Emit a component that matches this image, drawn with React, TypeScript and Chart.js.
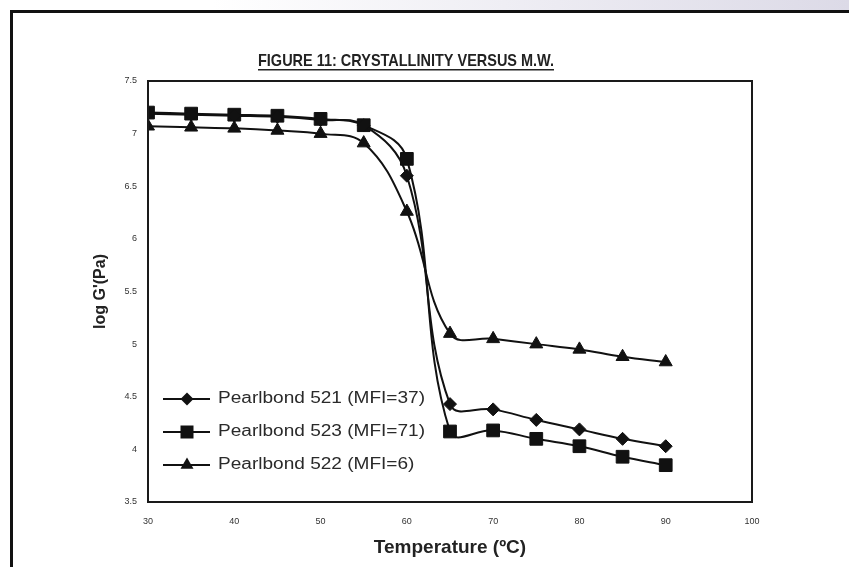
import React, { useEffect, useRef } from "react";
import { Chart, registerables } from "chart.js";

Chart.register(...registerables);

// ---- data ----
const temperatures = [30, 35, 40, 45, 50, 55, 60, 65, 70, 75, 80, 85, 90];
const pearlbond521 = [7.19, 7.18, 7.17, 7.16, 7.13, 7.08, 6.6, 4.43, 4.38, 4.28, 4.19, 4.1, 4.03];
const pearlbond523 = [7.2, 7.19, 7.18, 7.17, 7.14, 7.08, 6.76, 4.17, 4.18, 4.1, 4.03, 3.93, 3.85];
const pearlbond522 = [7.07, 7.06, 7.05, 7.03, 7.0, 6.91, 6.26, 5.1, 5.05, 5.0, 4.95, 4.88, 4.83];
const seriesLabels = [
  "Pearlbond 521 (MFI=37)",
  "Pearlbond 523 (MFI=71)",
  "Pearlbond 522 (MFI=6)",
];
const seriesMarkers = ["rectRot", "rect", "triangle"];
const xTickValues = [30, 40, 50, 60, 70, 80, 90, 100];
const yTickValues = [3.5, 4, 4.5, 5, 5.5, 6, 6.5, 7, 7.5];
const chartTitle = "FIGURE 11: CRYSTALLINITY VERSUS M.W.";
const xAxisTitle = "Temperature (ºC)";
const yAxisTitle = "log G'(Pa)";

const FONT = "'Liberation Sans', Arial, sans-serif";
const INK = "#111";

function drawMarker(ctx: CanvasRenderingContext2D, style: string, x: number, y: number) {
  ctx.beginPath();
  if (style === "rectRot") {
    const r = 6.5;
    ctx.moveTo(x, y - r);
    ctx.lineTo(x + r, y);
    ctx.lineTo(x, y + r);
    ctx.lineTo(x - r, y);
  } else if (style === "rect") {
    const s = 6.5;
    ctx.rect(x - s, y - s, 2 * s, 2 * s);
  } else {
    const r = 7.5;
    ctx.moveTo(x, y - r);
    ctx.lineTo(x + r * 0.866, y + r * 0.5);
    ctx.lineTo(x - r * 0.866, y + r * 0.5);
  }
  ctx.closePath();
  ctx.fill();
}

const decorPlugin = {
  id: "decor",
  afterDraw(chart: any) {
    const ctx: CanvasRenderingContext2D = chart.ctx;
    const { left, right, top, bottom } = chart.chartArea;
    ctx.save();
    // plot frame
    ctx.strokeStyle = "#1a1a1a";
    ctx.lineWidth = 2;
    ctx.strokeRect(left, top, right - left, bottom - top);

    // title with underline
    ctx.fillStyle = "#222";
    ctx.font = `bold 17px ${FONT}`;
    ctx.textBaseline = "alphabetic";
    ctx.textAlign = "left";
    const targetW = 296;
    const w = ctx.measureText(chartTitle).width;
    const sx = targetW / w;
    const tx = 258;
    const ty = 66;
    ctx.save();
    ctx.translate(tx, ty);
    ctx.scale(sx, 1);
    ctx.fillText(chartTitle, 0, 0);
    ctx.restore();
    ctx.fillRect(tx, ty + 3, targetW, 1.5);

    // legend
    ctx.font = `16px ${FONT}`;
    ctx.textBaseline = "middle";
    const lsx = 207 / ctx.measureText(seriesLabels[0]).width;
    chart.data.datasets.forEach((ds: any, i: number) => {
      const y = 399 + 33 * i;
      ctx.strokeStyle = INK;
      ctx.lineWidth = 2;
      ctx.beginPath();
      ctx.moveTo(163, y);
      ctx.lineTo(210, y);
      ctx.stroke();
      ctx.fillStyle = INK;
      drawMarker(ctx, seriesMarkers[i], 187, y);
      ctx.fillStyle = "#2a2a2a";
      ctx.save();
      ctx.translate(218, y);
      ctx.scale(lsx, 1);
      ctx.fillText(ds.label, 0, 0);
      ctx.restore();
    });
    ctx.restore();
  },
};

export default function App() {
  const canvasRef = useRef<HTMLCanvasElement | null>(null);

  useEffect(() => {
    const canvas = canvasRef.current;
    if (!canvas) return;
    const seriesValues = [pearlbond521, pearlbond523, pearlbond522];
    const pointRadius = [6.5, 9, 7.5];
    const chart = new Chart(canvas, {
      type: "line",
      data: {
        datasets: seriesValues.map((vals, i) => ({
          label: seriesLabels[i],
          data: temperatures.map((t, j) => ({ x: t, y: vals[j] })),
          borderColor: INK,
          backgroundColor: INK,
          borderWidth: 2,
          pointStyle: seriesMarkers[i] as any,
          pointRadius: pointRadius[i],
          pointBackgroundColor: INK,
          pointBorderColor: INK,
          pointBorderWidth: 1,
          tension: 0.4,
          fill: false,
        })),
      },
      options: {
        animation: false,
        responsive: false,
        devicePixelRatio: 1,
        layout: { padding: { left: 0, top: 81, right: 97, bottom: 0 } },
        plugins: {
          legend: { display: false },
          tooltip: { enabled: false },
          title: { display: false },
        },
        scales: {
          x: {
            type: "linear",
            min: 30,
            max: 100,
            grid: { display: false, drawTicks: false, tickLength: 0 },
            border: { display: false },
            afterBuildTicks: (scale: any) => {
              scale.ticks = xTickValues.map((v) => ({ value: v }));
            },
            afterFit: (scale: any) => {
              scale.height = 65;
            },
            ticks: {
              padding: 14,
              color: "#333",
              font: { family: FONT, size: 9 },
              maxRotation: 0,
              autoSkip: false,
            },
            title: {
              display: true,
              text: xAxisTitle,
              color: "#222",
              font: { family: FONT, size: 19, weight: "bold" },
              padding: { top: 0, bottom: 8 },
            },
          },
          y: {
            type: "linear",
            min: 3.5,
            max: 7.5,
            grid: { display: false, drawTicks: false, tickLength: 0 },
            border: { display: false },
            afterBuildTicks: (scale: any) => {
              scale.ticks = yTickValues.map((v) => ({ value: v }));
            },
            afterFit: (scale: any) => {
              scale.width = 148;
            },
            ticks: {
              padding: 11,
              color: "#333",
              font: { family: FONT, size: 9 },
              autoSkip: false,
              callback: (v: any) => String(v),
            },
            title: {
              display: true,
              text: yAxisTitle,
              color: "#222",
              font: { family: FONT, size: 16, weight: "bold" },
              padding: { top: 91, bottom: 0 },
            },
          },
        },
      },
      plugins: [decorPlugin],
    });
    return () => chart.destroy();
  }, []);

  return (
    <div
      style={{
        position: "fixed",
        left: 0,
        top: 0,
        width: 849,
        height: 567,
        background: "#fff",
        overflow: "hidden",
      }}
    >
      <div
        style={{
          position: "absolute",
          left: 0,
          top: 0,
          width: 849,
          height: 10,
          background: "linear-gradient(to right, #ffffff 25%, #dcdae7 100%)",
        }}
      />
      <div
        style={{
          position: "absolute",
          left: 10,
          top: 10,
          width: 839,
          height: 557,
          borderTop: "3px solid #111",
          borderLeft: "3px solid #111",
          boxSizing: "border-box",
        }}
      />
      <canvas
        ref={canvasRef}
        width={849}
        height={567}
        style={{ position: "absolute", left: 0, top: 0, width: 849, height: 567 }}
      />
    </div>
  );
}
